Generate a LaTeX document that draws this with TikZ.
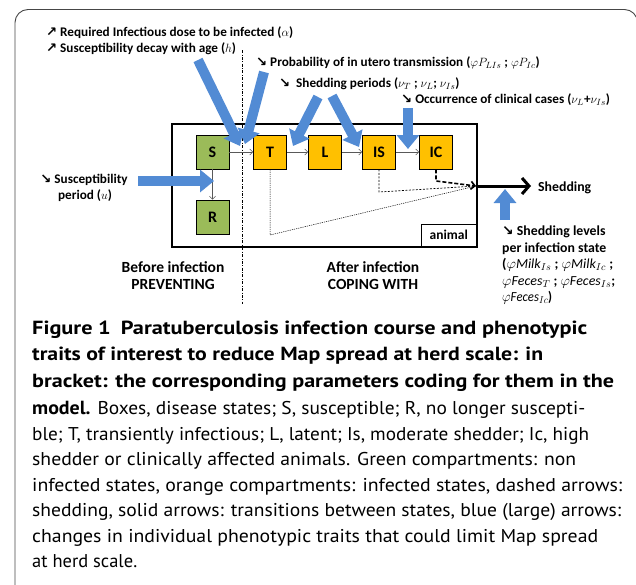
\documentclass[tikz,border=0pt]{standalone}
\usepackage{fontspec}
\usepackage{graphicx}
\setmainfont{Carlito}
\newfontfamily\capfont{PT Sans}
\newfontfamily\symfont{DejaVu Sans}
\usetikzlibrary{arrows.meta}
\definecolor{bluearr}{RGB}{82,139,212}
\definecolor{greenbox}{RGB}{155,187,89}
\definecolor{orangebox}{RGB}{255,192,0}
\definecolor{framegray}{RGB}{70,70,70}
\newcommand\uparr{{\symfont\bfseries ↗}}
\newcommand\dnarr{{\symfont\bfseries ↘}}
\newcommand\bcap[2]{\resizebox{#1}{\height}{\capfont\bfseries\fontsize{19}{22}\selectfont #2}}
\newcommand\rcap[2]{\resizebox{#1}{\height}{\capfont\fontsize{18.5}{22}\selectfont #2}}
\begin{document}
\begin{tikzpicture}[x=1pt,y=-1pt,
  state/.style={draw=black, line width=0.8pt, minimum width=33pt, minimum height=34pt, inner sep=0pt, font=\fontsize{16}{18}\selectfont\bfseries},
  trans/.style={draw=gray!70!black, line width=0.6pt, -{Straight Barb[length=3pt,width=6pt]}},
  bluearrow/.style={draw=bluearr, line width=10pt, -{Triangle[length=14pt,width=22pt]}},
  lbl/.style={font=\fontsize{13.2}{15}\selectfont\bfseries, inner sep=0pt, anchor=base west},
  slbl/.style={font=\fontsize{13.8}{15}\selectfont\bfseries, inner sep=0pt, anchor=base west},
  biglbl/.style={font=\fontsize{15.5}{17}\selectfont\bfseries, inner sep=0pt, align=center},
  capline/.style={inner sep=0pt, anchor=base west}]
\useasboundingbox (0,0) rectangle (636,584);
% outer frame
\draw[framegray, line width=0.9pt, rounded corners=13pt] (15,600) -- (15,9.5) -- (637.5,9.5) -- (637.5,600);
% animal box
\node[draw, line width=2pt, minimum width=305pt, minimum height=123pt, inner sep=0pt] (animalbox) at (324.5,185.5) {};
\node[draw, line width=1.5pt, minimum width=55pt, minimum height=22pt, inner sep=0pt, anchor=south east, font=\fontsize{13.5}{15}\selectfont\bfseries] (animal) at (477,247) {animal};
% separator
\coordinate (sepTop) at (242,50);
\coordinate (sepBot) at (242,304);
\draw[black, line width=0.5pt, dash pattern=on 3pt off 1.5pt on 0.8pt off 1.5pt] (sepTop) -- (sepBot);
% states
\node[state, fill=greenbox] (S) at (212.5,152) {S};
\node[state, fill=greenbox] (R) at (212.5,217) {R};
\node[state, fill=orangebox] (T) at (270,152) {T};
\node[state, fill=orangebox] (L) at (325,152) {L};
\node[state, fill=orangebox] (IS) at (379,152) {IS};
\node[state, fill=orangebox] (IC) at (436,152) {IC};
\draw[trans] (S) -- (T);
\draw[trans] (T) -- (L);
\draw[trans] (L) -- (IS);
\draw[trans] (IS) -- (IC);
\draw[trans] (S) -- (R);
% shedding
\coordinate (shedpt) at (476,186);
\coordinate (tcorner) at (270,235);
\coordinate (iscorner) at (379,192);
\coordinate (iccorner) at (436,181);
\coordinate (shedend) at (531,186);
\draw[line width=0.5pt, dash pattern=on 1.2pt off 1pt] (T.south) -- (tcorner) -- (shedpt);
\draw[line width=0.7pt, dash pattern=on 2pt off 1.5pt] (IS.south) -- (iscorner) -- (shedpt);
\draw[line width=1.6pt, dash pattern=on 4pt off 2pt, -{Straight Barb[length=4pt,width=8pt]}] (IC.south) -- (iccorner) -- (shedpt);
\draw[line width=3pt, -{Straight Barb[length=7pt,width=16pt]}] (shedpt) -- (shedend);
\node[font=\fontsize{13.8}{15}\selectfont\bfseries, inner sep=0pt, anchor=west] (shedlbl) at (538,188) {Shedding};
% blue arrows
\coordinate (b1s) at (198,60);  \coordinate (b1e) at (240,146);
\coordinate (b2s) at (264,72);  \coordinate (b2e) at (245,144);
\coordinate (b3s) at (318,97);  \coordinate (b3e) at (293,146);
\coordinate (b4s) at (332,96);  \coordinate (b4e) at (359,147);
\coordinate (b5s) at (408,108); \coordinate (b5e) at (408,149);
\coordinate (b6s) at (138,181); \coordinate (b6e) at (214,181);
\coordinate (b7s) at (505,220); \coordinate (b7e) at (505,189);
\draw[bluearrow] (b1s) -- (b1e);
\draw[bluearrow] (b2s) -- (b2e);
\draw[bluearrow] (b3s) -- (b3e);
\draw[bluearrow] (b4s) -- (b4e);
\draw[bluearrow] (b5s) -- (b5e);
\draw[bluearrow] (b6s) -- (b6e);
\draw[bluearrow] (b7s) -- (b7e);
% labels
\node[lbl] (t1) at (46,36) {\uparr\ Required Infectious dose to be infected ($\alpha$)};
\node[lbl] (t2) at (46,52) {\uparr\ Susceptibility decay with age ($h$)};
\node[lbl] (t3) at (256,66) {\dnarr\ Probability of in utero transmission ($\varphi P_{LIs}$ ; $\varphi P_{Ic}$)};
\node[lbl] (t4) at (279,87) {\dnarr\ \ Shedding periods ($\nu_T$ ; $\nu_L$; $\nu_{Is}$)};
\node[lbl] (t5) at (401,103) {\dnarr\ Occurrence of clinical cases ($\nu_L$+$\nu_{Is}$)};
\node[lbl, anchor=base] (t6a) at (84,183) {\dnarr\ Susceptibility};
\node[lbl, anchor=base] (t6b) at (85,199) {period ($u$)};
\node[biglbl] (before) at (173,275.5) {Before infection\\PREVENTING};
\node[biglbl] (after) at (373,275.5) {After infection\\COPING WITH};
\node[slbl] (sl1) at (502,235.5) {\dnarr\ Shedding levels};
\node[slbl] (sl2) at (502,252) {per infection state};
\node[slbl] (sl3) at (502,268.5) {\resizebox{111pt}{\height}{($\varphi\mathit{Milk}_{Is}$ ; $\varphi\mathit{Milk}_{Ic}$ ;}};
\node[slbl] (sl4) at (502,285) {\resizebox{113pt}{\height}{$\varphi\mathit{Feces}_{T}$ ; $\varphi\mathit{Feces}_{Is}$;}};
\node[slbl] (sl5) at (502,301.5) {\resizebox{50pt}{\height}{$\varphi\mathit{Feces}_{Ic}$)}};
% caption
\node[capline] (c1) at (32,334) {\bcap{555pt}{Figure 1\hspace{0.45em}Paratuberculosis infection course and phenotypic}};
\node[capline] (c2) at (32,360.5) {\bcap{511pt}{traits of interest to reduce Map spread at herd scale: in}};
\node[capline] (c3) at (32,387) {\bcap{582pt}{bracket: the corresponding parameters coding for them in the}};
\node[capline] (c4) at (32,414) {\rcap{553pt}{{\bfseries\fontsize{19}{22}\selectfont model.} Boxes, disease states; S, susceptible; R, no longer suscepti-}};
\node[capline] (c5) at (32,440) {\rcap{557pt}{ble; T, transiently infectious; L, latent; Is, moderate shedder; Ic, high}};
\node[capline] (c6) at (32,465.5) {\rcap{544pt}{shedder or clinically affected animals. Green compartments: non}};
\node[capline] (c7) at (32,491) {\rcap{590pt}{infected states, orange compartments: infected states, dashed arrows:}};
\node[capline] (c8) at (32,516.5) {\rcap{589pt}{shedding, solid arrows: transitions between states, blue (large) arrows:}};
\node[capline] (c9) at (32,542) {\rcap{566pt}{changes in individual phenotypic traits that could limit Map spread}};
\node[capline] (c10) at (32,567) {\rcap{105pt}{at herd scale.}};
\end{tikzpicture}
\end{document}
